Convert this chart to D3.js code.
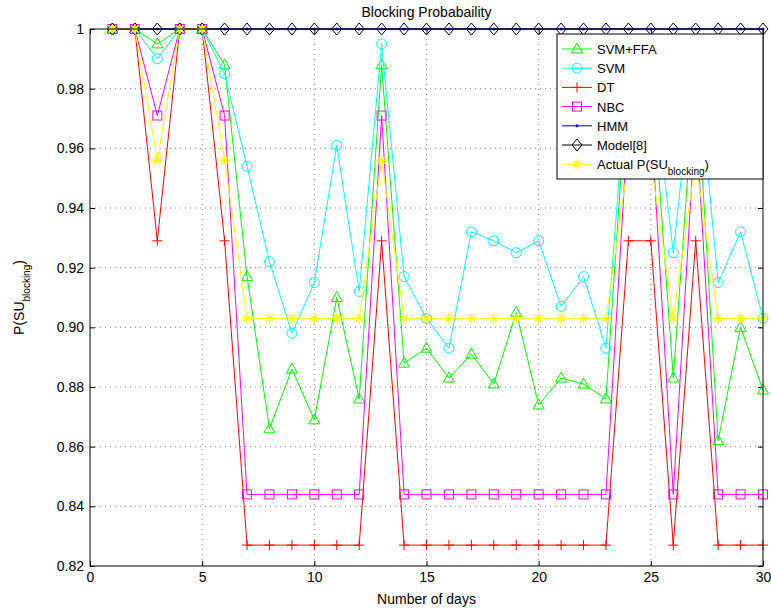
<!DOCTYPE html>
<html>
<head>
<meta charset="UTF-8">
<script src="https://d3js.org/d3.v7.min.js"></script>
<style>body{margin:0;background:#fff;font-family:Arial,"Liberation Sans",sans-serif;}</style>
</head>
<body>
<script>
var days = d3.range(1, 31);
var svmffa = [1,1,0.995,1,1,0.988,0.917,0.866,0.886,0.869,0.910,0.876,0.988,0.888,0.893,0.883,0.891,0.881,0.905,0.874,0.883,0.881,0.876,0.988,0.988,0.883,0.988,0.862,0.900,0.879];
var svm = [1,1,0.990,1,1,0.985,0.954,0.922,0.898,0.915,0.961,0.912,0.995,0.917,0.903,0.893,0.932,0.929,0.925,0.929,0.907,0.917,0.893,0.990,0.990,0.925,0.995,0.915,0.932,0.903];
var dt = [1,1,0.929,1,1,0.929,0.827,0.827,0.827,0.827,0.827,0.827,0.929,0.827,0.827,0.827,0.827,0.827,0.827,0.827,0.827,0.827,0.827,0.929,0.929,0.827,0.929,0.827,0.827,0.827];
var nbc = [1,1,0.971,1,1,0.971,0.844,0.844,0.844,0.844,0.844,0.844,0.971,0.844,0.844,0.844,0.844,0.844,0.844,0.844,0.844,0.844,0.844,0.971,0.971,0.844,0.971,0.844,0.844,0.844];
var hmm = days.map(function(){return 1;});
var model8 = days.map(function(){return 1;});
var actual = [1,1,0.956,1,1,0.956,0.903,0.903,0.903,0.903,0.903,0.903,0.956,0.903,0.903,0.903,0.903,0.903,0.903,0.903,0.903,0.903,0.903,0.956,0.956,0.903,0.956,0.903,0.903,0.903];

var series = [
  {name:"SVM+FFA", vals:svmffa, color:"#00ff00", mark:"tri"},
  {name:"SVM", vals:svm, color:"#00ffff", mark:"circ"},
  {name:"DT", vals:dt, color:"#ff0000", mark:"plus"},
  {name:"NBC", vals:nbc, color:"#ff00ff", mark:"sq"},
  {name:"Model[8]", vals:model8, color:"#000000", mark:"dia"},
  {name:"HMM", vals:hmm, color:"#0000ff", mark:"dot"},
  {name:"Actual P(SU", vals:actual, color:"#ffff00", mark:"star"}
];
var legendOrder = ["SVM+FFA","SVM","DT","NBC","HMM","Model[8]","Actual P(SU"];

var W=771,H=612, L=90, R=763, T=29, B=566;
var svg = d3.select("body").append("svg").attr("width",W).attr("height",H);
var x = d3.scaleLinear().domain([0,30]).range([L,R]);
var y = d3.scaleLinear().domain([0.82,1]).range([B,T]);
var yt = d3.range(0.82,1.0001,0.02);
var xt = d3.range(0,31,5);

var g = svg.append("g");
g.selectAll(".gx").data(xt.slice(1,-1)).enter().append("line")
  .attr("x1",x).attr("x2",x).attr("y1",T).attr("y2",B)
  .attr("stroke","#888").attr("stroke-dasharray","1,4");
g.selectAll(".gy").data(yt.slice(1,-1)).enter().append("line")
  .attr("y1",y).attr("y2",y).attr("x1",L).attr("x2",R)
  .attr("stroke","#888").attr("stroke-dasharray","1,4");

svg.append("g").attr("transform","translate(0,"+B+")")
  .call(d3.axisBottom(x).tickValues(xt).tickSizeInner(-5).tickSizeOuter(0).tickPadding(6))
  .call(function(a){a.select(".domain").remove();a.selectAll("text").attr("font-size",14).attr("font-family","Arial,Liberation Sans");});
svg.append("g").attr("transform","translate("+L+",0)")
  .call(d3.axisLeft(y).tickValues(yt).tickFormat(function(d){return Math.abs(d-1)<1e-9?"1":d3.format(".2f")(d);}).tickSizeInner(-5).tickSizeOuter(0).tickPadding(6))
  .call(function(a){a.select(".domain").remove();a.selectAll("text").attr("font-size",14).attr("font-family","Arial,Liberation Sans");});
svg.append("g").attr("transform","translate(0,"+T+")")
  .call(d3.axisTop(x).tickValues(xt).tickSizeInner(-5).tickSizeOuter(0).tickFormat(""))
  .call(function(a){a.select(".domain").remove();});
svg.append("g").attr("transform","translate("+R+",0)")
  .call(d3.axisRight(y).tickValues(yt).tickSizeInner(-5).tickSizeOuter(0).tickFormat(""))
  .call(function(a){a.select(".domain").remove();});

function marker(sel, m, c){
  if(m=="tri") sel.append("path").attr("d","M0,-6L5.5,4L-5.5,4Z").attr("fill","none").attr("stroke",c);
  if(m=="circ") sel.append("circle").attr("r",5).attr("fill","none").attr("stroke",c);
  if(m=="plus") sel.append("path").attr("d","M-5,0H5M0,-5V5").attr("stroke",c);
  if(m=="sq") sel.append("rect").attr("x",-4.5).attr("y",-4.5).attr("width",9).attr("height",9).attr("fill","none").attr("stroke",c);
  if(m=="dia") sel.append("path").attr("d","M0,-6L5,0L0,6L-5,0Z").attr("fill","none").attr("stroke",c);
  if(m=="dot") sel.append("circle").attr("r",1.5).attr("fill",c);
  if(m=="star") sel.append("path").attr("d","M-5,0H5M0,-5V5M-3.5,-3.5L3.5,3.5M-3.5,3.5L3.5,-3.5").attr("stroke",c).attr("stroke-width",1.3);
}

var line = d3.line().x(function(d,i){return x(days[i]);}).y(function(d){return y(d);});
series.forEach(function(s){
  svg.append("path").datum(s.vals).attr("d",line).attr("fill","none").attr("stroke",s.color).attr("stroke-width",1);
  s.vals.forEach(function(v,i){
    marker(svg.append("g").attr("transform","translate("+x(days[i])+","+y(v)+")"), s.mark, s.color);
  });
});

svg.append("rect").attr("x",L).attr("y",T).attr("width",R-L).attr("height",B-T).attr("fill","none").attr("stroke","#000");

// legend
var lg = svg.append("g").attr("transform","translate(557,34)");
lg.append("rect").attr("width",206).attr("height",145).attr("fill","#fff").attr("stroke","#000");
legendOrder.forEach(function(n,i){
  var s = series.find(function(d){return d.name==n;});
  var yy = 15+i*19.2;
  lg.append("line").attr("x1",5).attr("x2",35).attr("y1",yy).attr("y2",yy).attr("stroke",s.color);
  marker(lg.append("g").attr("transform","translate(20,"+yy+")"), s.mark, s.color);
  var t = lg.append("text").attr("x",40).attr("y",yy+5).attr("font-size",13).text(n);
  if(n=="Actual P(SU"){
    t.append("tspan").attr("baseline-shift","sub").attr("font-size",10).text("blocking");
    t.append("tspan").text(")");
  }
});

svg.append("text").attr("x",(L+R)/2).attr("y",17).attr("text-anchor","middle").attr("font-size",14).text("Blocking Probabaility");
svg.append("text").attr("x",(L+R)/2).attr("y",604).attr("text-anchor","middle").attr("font-size",14).text("Number of days");
var yl = svg.append("text").attr("transform","translate(24,"+((T+B)/2)+") rotate(-90)").attr("text-anchor","middle").attr("font-size",14).text("P(SU");
yl.append("tspan").attr("baseline-shift","sub").attr("font-size",10).text("blocking");
yl.append("tspan").text(")");
</script>
</body>
</html>
